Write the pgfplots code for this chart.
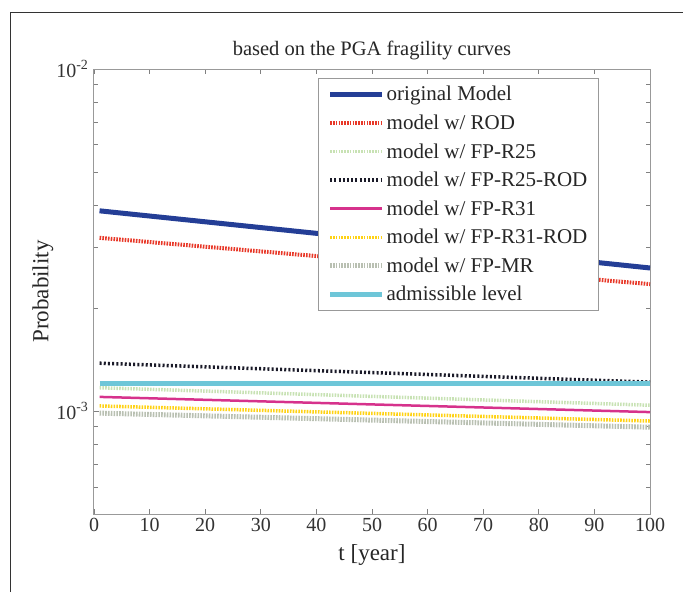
\documentclass[border=0pt]{standalone}
\usepackage{pgfplots}
\pgfplotsset{compat=1.18}
\usepackage{fontspec}
\setmainfont{Liberation Serif}

\definecolor{cOrig}{RGB}{36,62,150}
\definecolor{cRod}{RGB}{232,56,40}
\definecolor{cR25}{RGB}{200,226,180}
\definecolor{cR25rod}{RGB}{26,26,40}
\definecolor{cR31}{RGB}{214,50,140}
\definecolor{cR31rod}{RGB}{255,210,20}
\definecolor{cMR}{RGB}{185,192,178}
\definecolor{cAdm}{RGB}{110,198,216}

\begin{document}
\begin{tikzpicture}[x=1pt,y=1pt]
\path[use as bounding box] (0,0) rectangle (683,592);
% outer frame (top and left only)
\draw[black!80, line width=1pt] (10,0) -- (10,579) -- (683,579);
\begin{axis}[
  at={(94pt,78pt)}, anchor=south west,
  scale only axis, width=556pt, height=445pt,
  xmin=0, xmax=100, xtick={0,10,...,100},
  ymode=log, ymin=5e-4, ymax=1e-2,
  ytick={1e-3,1e-2},
  yticklabels={10\textsuperscript{-3},10\textsuperscript{-2}},
  minor ytick={6e-4,7e-4,8e-4,9e-4,2e-3,3e-3,4e-3,5e-3,6e-3,7e-3,8e-3,9e-3},
  /pgf/number format/assume math mode=true,
  axis line style={black!40, line width=1pt},
  tick style={black!50, line width=0.8pt},
  tick align=inside, major tick length=5pt, minor tick length=4pt,
  xtick pos=both, ytick pos=both,
  tick label style={font=\fontsize{20}{22}\selectfont, text=black!80},
  x tick label style={yshift=-1pt},
  y tick label style={xshift=-2pt},
  label style={font=\fontsize{23}{26}\selectfont, text=black!85},
  xlabel={t [year]}, ylabel={Probability},
  xlabel style={yshift=-6pt}, ylabel style={yshift=-4pt},
  title={based on the PGA fragility curves},
  title style={font=\fontsize{20.5}{22}\selectfont, text=black!85, yshift=0pt},
  legend cell align=left,
  legend style={at={(0.908,0.98)}, anchor=north east,
    draw=black!40, line width=1pt,
    font=\fontsize{21}{23}\selectfont, text=black!85,
    row sep=8.5pt, inner xsep=9pt, inner ysep=6pt},
  legend image code/.code={\draw[#1] (0pt,0pt) -- (52pt,0pt);},
]
\addplot[cOrig, line width=5pt] coordinates {(1,3.85e-3) (100,2.62e-3)};
\addlegendentry{original Model}
\addplot[cRod, line width=4pt, dash pattern=on 1.6pt off 1.2pt] coordinates {(1,3.21e-3) (100,2.35e-3)};
\addlegendentry{model w/ ROD}
\addplot[cR25, line width=3.5pt, dash pattern=on 1.6pt off 1.2pt] coordinates {(1,1.17e-3) (100,1.04e-3)};
\addlegendentry{model w/ FP-R25}
\addplot[cR25rod, line width=3.5pt, dash pattern=on 2pt off 2.2pt] coordinates {(1,1.38e-3) (100,1.215e-3)};
\addlegendentry{model w/ FP-R25-ROD}
\addplot[cR31, line width=2.5pt] coordinates {(1,1.10e-3) (100,0.993e-3)};
\addlegendentry{model w/ FP-R31}
\addplot[cR31rod, line width=3.5pt, dash pattern=on 1.6pt off 1.2pt] coordinates {(1,1.035e-3) (100,0.935e-3)};
\addlegendentry{model w/ FP-R31-ROD}
\addplot[cMR, line width=5pt, dash pattern=on 1.6pt off 1.2pt] coordinates {(1,0.986e-3) (100,0.897e-3)};
\addlegendentry{model w/ FP-MR}
\addplot[cAdm, line width=5pt] coordinates {(1,1.20e-3) (100,1.20e-3)};
\addlegendentry{admissible level}
\end{axis}
\end{tikzpicture}
\end{document}
